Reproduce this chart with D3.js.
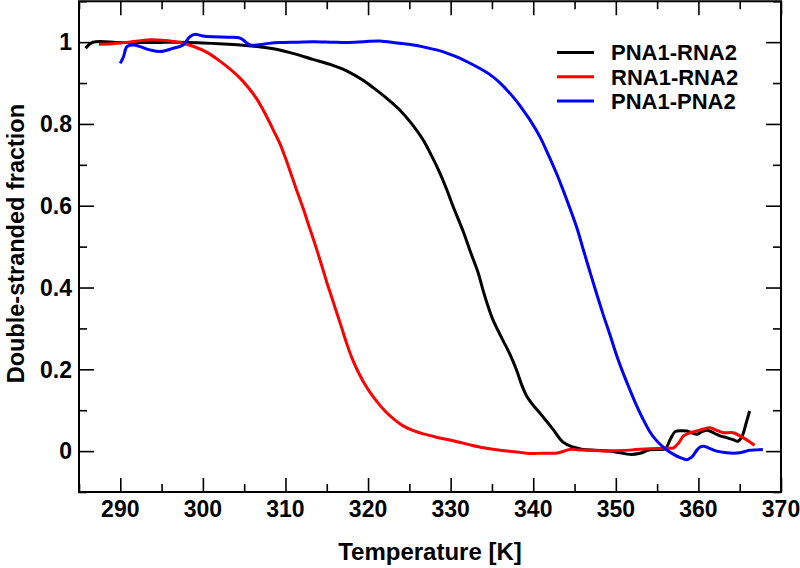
<!DOCTYPE html>
<html><head><meta charset="utf-8">
<script src="https://cdn.jsdelivr.net/npm/d3@7"></script>
<style>body{margin:0;background:#fff}svg{display:block}text{font-family:"Liberation Sans",Arial,Helvetica,sans-serif;font-weight:bold;fill:#000}</style>
</head><body><svg id="c" width="800" height="568"></svg>
<script>
const seriesNames = ["PNA1-RNA2", "RNA1-RNA2", "PNA1-PNA2"];
const seriesColors = ["#000000", "#ff0000", "#0000ff"];
const xTicks = [290, 300, 310, 320, 330, 340, 350, 360, 370];
const yTicks = [0, 0.2, 0.4, 0.6, 0.8, 1];

// [temperature K, fraction]
const pnaRna = [[285.8,0.985],[286.7,1.0],[290,0.999],[294,0.999],[297.2,1.0],[300,0.998],[302,0.996],[304.5,0.993],[307,0.988],[309.3,0.981],[311,0.972],[313.3,0.958],[315.5,0.945],[317.4,0.93],[319.4,0.907],[320.6,0.889],[322.3,0.862],[323.9,0.833],[325.3,0.8],[326.6,0.763],[327.7,0.722],[328.7,0.68],[329.5,0.641],[330.3,0.598],[331.5,0.538],[332.4,0.487],[333.3,0.438],[333.9,0.395],[334.5,0.356],[335.1,0.322],[336.3,0.272],[337.2,0.236],[338.0,0.197],[338.6,0.162],[339.2,0.135],[340.0,0.112],[340.8,0.093],[342.4,0.053],[343.6,0.022],[344.8,0.01],[346.0,0.004],[347.5,0.002],[349.3,0.0],[350.5,-0.004],[351.7,-0.008],[352.8,-0.006],[354.1,0.003],[355.2,0.004],[356.0,0.006],[356.6,0.029],[357.2,0.048],[358.0,0.05],[358.6,0.049],[359.2,0.045],[359.8,0.041],[360.4,0.047],[361.0,0.051],[361.6,0.047],[362.2,0.041],[362.8,0.036],[363.4,0.033],[364.2,0.028],[364.8,0.024],[365.3,0.037],[365.8,0.07],[366.2,0.098]];

const rnaRna = [[287.4,0.995],[289,0.996],[291,1.0],[293.6,1.006],[295.5,1.004],[297.2,0.999],[298.8,0.99],[300.5,0.975],[302.1,0.953],[303.3,0.934],[304.5,0.912],[305.5,0.889],[306.5,0.862],[307.3,0.834],[308.1,0.803],[308.7,0.778],[309.3,0.753],[309.9,0.722],[310.5,0.688],[311.3,0.641],[312.2,0.59],[312.8,0.553],[313.4,0.517],[313.8,0.492],[314.4,0.453],[315.0,0.413],[315.6,0.376],[316.2,0.339],[316.8,0.302],[317.4,0.264],[318.0,0.23],[318.6,0.202],[319.4,0.171],[320.2,0.145],[321.2,0.118],[322.2,0.095],[323.2,0.077],[324.3,0.061],[325.5,0.05],[326.7,0.042],[328.3,0.034],[329.9,0.027],[332,0.017],[334,0.008],[336,0.002],[338,-0.002],[339.6,-0.006],[341.2,-0.005],[342.8,-0.005],[343.6,-0.001],[344.4,0.004],[345.6,0.003],[346.9,0.002],[348.9,0.0],[350.1,0.001],[352.0,0.003],[354.1,0.006],[356.0,0.007],[357.0,0.008],[357.6,0.02],[358.2,0.037],[359.0,0.045],[359.8,0.049],[360.6,0.054],[361.4,0.057],[362.2,0.051],[363.0,0.045],[364.2,0.045],[365.4,0.033],[366.2,0.023],[366.8,0.014]];

const pnaPna = [[290.0,0.948],[290.4,0.965],[290.8,0.989],[291.6,0.993],[292.4,0.989],[293.6,0.981],[294.8,0.977],[296.4,0.985],[297.6,0.993],[298.4,1.013],[299.0,1.019],[300.0,1.015],[301.3,1.013],[303.0,1.012],[304.5,1.01],[305.2,1.0],[305.7,0.993],[306.5,0.993],[308.0,0.997],[309.3,0.999],[311.5,1.0],[313.4,1.001],[315.5,1.0],[317.4,0.999],[319.5,1.001],[321.4,1.003],[323.5,0.998],[325.5,0.993],[327,0.987],[328.3,0.981],[329.7,0.972],[331.1,0.961],[332.3,0.949],[333.5,0.936],[334.8,0.92],[336.0,0.9],[337.0,0.879],[338.0,0.855],[338.8,0.833],[339.6,0.81],[340.8,0.769],[341.6,0.735],[342.8,0.68],[343.6,0.639],[344.4,0.596],[345.3,0.545],[346.1,0.49],[346.9,0.436],[347.7,0.383],[348.5,0.332],[349.3,0.284],[350.1,0.234],[350.9,0.19],[351.7,0.15],[352.5,0.112],[353.3,0.078],[354.1,0.048],[354.7,0.031],[355.3,0.018],[356.1,0.004],[357.0,-0.008],[357.8,-0.016],[358.6,-0.021],[359.1,-0.016],[359.4,-0.01],[359.8,0.002],[360.2,0.01],[360.6,0.012],[361.2,0.008],[362.2,0.0],[363.4,-0.004],[364.2,-0.005],[365.0,-0.004],[365.6,-0.001],[366.2,0.002],[367.0,0.003],[367.8,0.004]];

const allSeries = [pnaRna, rnaRna, pnaPna];

const svg = d3.select("#c");
const L = 79, R = 781, T = 1.25, B = 492;
const x = d3.scaleLinear().domain([285, 370]).range([L, R]);
const y = d3.scaleLinear().domain([-0.1, 1.1]).range([B, T]);

const g = svg.append("g");

g.append("rect").attr("x", L).attr("y", T).attr("width", R - L).attr("height", B - T)
  .attr("fill", "none").attr("stroke", "#000").attr("stroke-width", 2);

const xMinor = d3.range(285, 371, 5).filter(v => v % 10 !== 0);
const yMinor = [-0.1, 0.1, 0.3, 0.5, 0.7, 0.9, 1.1];

function ticks(axisGen, trans, tickLen, vals) {
  const a = g.append("g").attr("transform", trans)
    .call(axisGen.tickValues(vals).tickSize(tickLen).tickFormat(""));
  a.select(".domain").remove();
  a.selectAll("line").attr("stroke-width", 1.6);
  return a;
}
ticks(d3.axisBottom(x), `translate(0,${B})`, -14, xTicks);
ticks(d3.axisTop(x), `translate(0,${T})`, -14, xTicks);
ticks(d3.axisLeft(y), `translate(${L},0)`, -15, yTicks);
ticks(d3.axisRight(y), `translate(${R},0)`, -15, yTicks);
ticks(d3.axisBottom(x), `translate(0,${B})`, -8, xMinor);
ticks(d3.axisTop(x), `translate(0,${T})`, -8, xMinor);
ticks(d3.axisLeft(y), `translate(${L},0)`, -8, yMinor);
ticks(d3.axisRight(y), `translate(${R},0)`, -8, yMinor);

g.append("g").selectAll("text").data(xTicks).join("text")
  .attr("x", d => x(d)).attr("y", 517).attr("text-anchor", "middle")
  .attr("font-size", 23).text(d => d);
g.append("g").selectAll("text").data(yTicks).join("text")
  .attr("x", 72).attr("y", d => y(d)).attr("dy", "0.36em").attr("text-anchor", "end")
  .attr("font-size", 23).text(d => d);

g.append("text").attr("x", (L + R) / 2).attr("y", 560).attr("text-anchor", "middle")
  .attr("font-size", 24).text("Temperature [K]");
g.append("text").attr("transform", `translate(24,${(T + B) / 2 - 3}) rotate(-90)`)
  .attr("text-anchor", "middle").attr("font-size", 23.5).text("Double-stranded fraction");

const line = d3.line().x(d => x(d[0])).y(d => y(d[1])).curve(d3.curveCatmullRom.alpha(0.5));
g.append("g").selectAll("path").data(allSeries).join("path")
  .attr("d", d => line(d)).attr("fill", "none")
  .attr("stroke", (d, i) => seriesColors[i]).attr("stroke-width", 3)
  .attr("stroke-linejoin", "round");

const lg = g.append("g");
seriesNames.forEach((n, i) => {
  const yy = 52.5 + i * 24.2;
  lg.append("line").attr("x1", 557).attr("x2", 594).attr("y1", yy).attr("y2", yy)
    .attr("stroke", seriesColors[i]).attr("stroke-width", 3);
  lg.append("text").attr("x", 611).attr("y", yy).attr("dy", "0.36em")
    .attr("font-size", 22).text(n);
});
</script></body></html>
